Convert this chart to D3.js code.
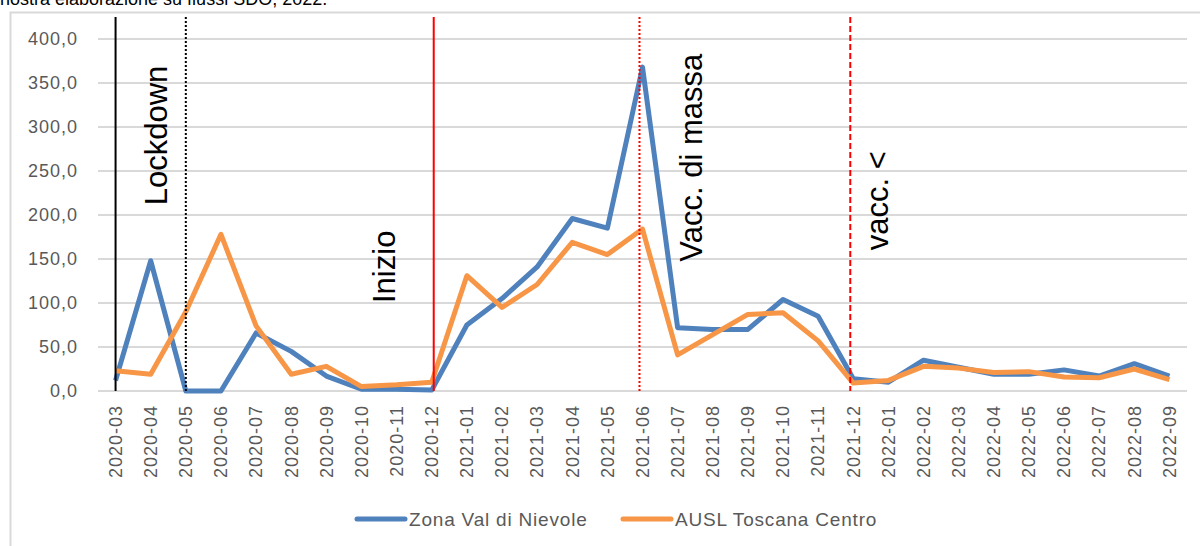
<!DOCTYPE html>
<html>
<head>
<meta charset="utf-8">
<script src="https://cdn.jsdelivr.net/npm/d3@7"></script>
<style>
  body { margin: 0; background: #fff; }
  svg { display: block; font-family: "Liberation Sans", Arial, sans-serif; }
</style>
</head>
<body>
<svg id="chart" width="1200" height="546"></svg>
<script>
// Months on the x axis
var months = ['2020-03', '2020-04', '2020-05', '2020-06', '2020-07', '2020-08', '2020-09', '2020-10',
  '2020-11', '2020-12', '2021-01', '2021-02', '2021-03', '2021-04', '2021-05', '2021-06', '2021-07',
  '2021-08', '2021-09', '2021-10', '2021-11', '2021-12', '2022-01', '2022-02', '2022-03', '2022-04',
  '2022-05', '2022-06', '2022-07', '2022-08', '2022-09'];

// Series
var zonaValDiNievole = [12, 148, 0, 0, 66, 45, 17, 2, 2, 1, 75, 105, 141, 196, 185, 368, 72, 70, 70,
  104, 85, 14, 10, 35, 27, 19, 19, 24, 17, 31, 17];
var auslToscanaCentro = [23, 19, 90, 178, 74, 19, 28, 5, 7, 10, 131, 95, 121, 169, 155, 184, 41, 64, 87,
  89, 57, 9, 12, 28, 26, 21, 22, 16, 15, 25, 13];

var yTicks = [0, 50, 100, 150, 200, 250, 300, 350, 400];

// Event markers (vertical lines) and their labels
var markerMonths = ['2020-03', '2020-05', '2020-12', '2021-06', '2021-12'];
var markerColors = ['#000', '#000', '#ff0000', '#ff0000', '#ff0000'];
var markerDashes = [null, '2 2', null, '2 2', '6 3'];
var eventLabels = ['Lockdown', 'Inizio', 'Vacc. di massa', 'vacc. <'];

var svg = d3.select('#chart');
var grey = '#595959';

var x = d3.scalePoint()
  .domain(months)
  .range([98, 1187])
  .padding(0.5);

var y = d3.scaleLinear()
  .domain([0, 400])
  .range([391, 39]);

var it = d3.formatLocale({decimal: ',', thousands: '.', grouping: [3], currency: ['', '€']});
var fmt = it.format('.1f');

// Outer chart frame
svg.append('rect')
  .attr('x', 10.5).attr('y', 12.5)
  .attr('width', 1200).attr('height', 560)
  .attr('fill', 'none')
  .attr('stroke', '#d9d9d9')
  .attr('stroke-width', 2);

// Cut-off source line above the chart
svg.append('text')
  .attr('x', 0).attr('y', 5)
  .attr('font-size', 18)
  .attr('fill', '#000')
  .text('nostra elaborazione su flussi SDO, 2022.');

// Gridlines
svg.append('g')
  .selectAll('line')
  .data(yTicks)
  .enter().append('line')
  .attr('x1', 98).attr('x2', 1187)
  .attr('y1', function(d) { return y(d); })
  .attr('y2', function(d) { return y(d); })
  .attr('stroke', '#d9d9d9')
  .attr('stroke-width', 2);

// Y axis labels
svg.append('g')
  .selectAll('text')
  .data(yTicks)
  .enter().append('text')
  .attr('x', 78)
  .attr('y', function(d) { return y(d); })
  .attr('dy', '0.35em')
  .attr('text-anchor', 'end')
  .attr('font-size', 18)
  .attr('letter-spacing', 1)
  .attr('fill', grey)
  .text(function(d) { return fmt(d); });

// X axis labels
svg.append('g')
  .selectAll('text')
  .data(months)
  .enter().append('text')
  .attr('transform', function(d) { return 'translate(' + x(d) + ',405) rotate(-90)'; })
  .attr('dy', '0.35em')
  .attr('text-anchor', 'end')
  .attr('font-size', 18)
  .attr('letter-spacing', 1)
  .attr('fill', grey)
  .text(function(d) { return d; });

// Series lines
var line = d3.line()
  .x(function(d, i) { return x(months[i]); })
  .y(function(d) { return y(d); });

svg.append('path')
  .datum(zonaValDiNievole)
  .attr('fill', 'none')
  .attr('stroke', '#4f81bd')
  .attr('stroke-width', 5)
  .attr('stroke-linejoin', 'round')
  .attr('d', line);

svg.append('path')
  .datum(auslToscanaCentro)
  .attr('fill', 'none')
  .attr('stroke', '#f79646')
  .attr('stroke-width', 5)
  .attr('stroke-linejoin', 'round')
  .attr('d', line);

// Vertical event lines
markerMonths.forEach(function(m, i) {
  var xm = x(m) + (i === 2 ? 2 : 0) - (i >= 3 ? 3 : 0);
  svg.append('line')
    .attr('x1', xm).attr('x2', xm)
    .attr('y1', 17).attr('y2', y(0))
    .attr('stroke', markerColors[i])
    .attr('stroke-width', 2)
    .attr('stroke-dasharray', markerDashes[i]);
});

// Event labels, rotated
var labelAnchors = [
  {x: x('2020-04') + 16, v: 211},
  {x: x('2020-11') - 2, v: 100},
  {x: x('2021-07') + 24, v: 147},
  {x: x('2022-01') + 0, v: 160}
];
eventLabels.forEach(function(t, i) {
  var a = labelAnchors[i];
  svg.append('text')
    .attr('transform', 'translate(' + a.x + ',' + y(a.v) + ') rotate(-90)')
    .attr('font-size', 31)
    .attr('fill', '#000')
    .text(t);
});

// Legend
var legend = [
  {name: 'Zona Val di Nievole', color: '#4f81bd', x: 357},
  {name: 'AUSL Toscana Centro', color: '#f79646', x: 623}
];
legend.forEach(function(l) {
  svg.append('line')
    .attr('x1', l.x).attr('x2', l.x + 48)
    .attr('y1', 519).attr('y2', 519)
    .attr('stroke', l.color)
    .attr('stroke-width', 5)
    .attr('stroke-linecap', 'round');
  svg.append('text')
    .attr('x', l.x + 52).attr('y', 519)
    .attr('dy', '0.35em')
    .attr('font-size', 19)
    .attr('letter-spacing', 0.8)
    .attr('fill', grey)
    .text(l.name);
});
</script>
</body>
</html>
